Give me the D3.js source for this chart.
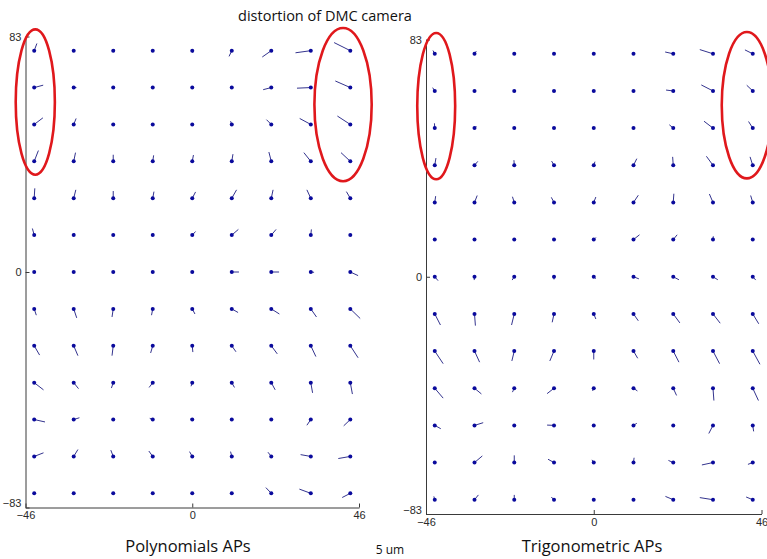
<!DOCTYPE html>
<html>
<head>
<meta charset="utf-8">
<script src="https://cdn.jsdelivr.net/npm/d3@7/dist/d3.min.js"></script>
<style>
  html, body { margin: 0; padding: 0; background: #fff; }
  svg { display: block; }
</style>
</head>
<body>
<svg id="chart" width="767" height="559"></svg>
<script>
// Image-space grid of control points (mm) and tick labels
const gridX = [-43.6, -32.7, -21.8, -10.9, 0, 10.9, 21.8, 32.7, 43.6];
const gridY = [78, 65, 52, 39, 26, 13, 0, -13, -26, -39, -52, -65, -78];
const xTicks = [-46, 0, 46];
const yTicks = [83, 0, -83];

// Residual distortion vectors (um), one row per gridY value, one column per gridX value.
// U: positive to the right, V: positive upward.
const polyU = [
  [ 0.9,  0.2,  0.6,  0.0,  0.2, -0.9, -3.0, -5.1, -5.4],
  [ 3.0,  0.9,  0.0,  0.0,  0.0,  0.0, -2.7, -4.6, -5.0],
  [ 2.9,  0.8,  0.0,  0.0,  0.0, -0.4, -1.6, -3.7, -4.3],
  [ 1.4,  0.6,  0.0,  0.3,  0.4,  0.4, -0.8, -2.3, -3.1],
  [ 0.2,  0.7,  0.0,  0.4,  1.1,  1.6,  0.6, -1.3, -1.3],
  [-0.6,  0.2,  0.0,  0.2,  1.1,  2.2,  1.6,  0.2,  0.0],
  [ 0.0,  0.0,  0.0,  0.0,  0.6,  2.4,  2.6,  1.1,  2.6],
  [ 0.7,  1.0, -0.4, -0.4,  0.9,  2.1,  2.7,  1.9,  3.3],
  [ 1.8,  1.4, -0.4, -0.7,  0.2,  1.4,  2.0,  1.7,  2.6],
  [ 3.1,  1.6, -0.6, -1.2, -0.4,  0.9,  1.3,  0.6,  0.7],
  [ 3.6,  1.9,  0.0, -1.0, -0.6,  0.0,  0.0, -1.3, -2.2],
  [ 3.1,  1.4, -0.8, -1.3, -0.9, -0.4, -1.1, -3.4, -4.0],
  [ 0.0,  0.0,  0.0,  0.0,  0.0,  0.0, -1.8, -3.8, -2.7]
];
const polyV = [
  [ 2.4,  0.3,  0.3,  0.0, -0.7, -1.9, -2.1, -0.7,  2.7],
  [ 0.8,  0.0,  0.0,  0.0,  0.0,  0.0, -0.7, -0.2,  2.2],
  [ 2.2,  2.0,  0.0,  0.0,  0.0,  1.1,  1.6,  2.0,  2.8],
  [ 3.6,  2.9,  2.2,  2.0,  2.1,  2.4,  3.1,  2.9,  2.9],
  [ 3.3,  2.8,  2.4,  2.2,  2.1,  2.8,  2.8,  2.8,  2.2],
  [ 2.2,  0.7,  0.0,  0.6,  1.2,  1.9,  1.9,  1.9,  0.0],
  [ 0.0,  0.0,  0.0,  0.0,  0.1,  0.0,  0.0, -0.1, -1.2],
  [-2.1, -3.0, -2.7, -2.1, -1.7, -1.2, -1.7, -2.7, -3.2],
  [-3.1, -3.3, -3.3, -2.4, -2.1, -2.0, -2.7, -3.6, -4.0],
  [-2.4, -2.0, -1.8, -1.6, -1.2, -1.6, -2.4, -3.4, -3.8],
  [-0.8,  0.6,  0.0,  0.4,  0.2,  0.0,  0.0, -1.9, -2.1],
  [ 1.2,  2.3,  2.1,  1.8,  1.6,  1.6,  1.4,  0.6, -0.7],
  [ 0.0,  0.0,  0.0,  0.0,  0.0,  0.0,  1.9,  1.4, -1.4]
];
const trigU = [
  [-0.6,  0.6,  0.0,  0.0,  0.0,  0.0, -2.7, -4.4, -2.6],
  [-0.7, -0.3,  0.0,  0.0,  0.0,  0.0, -2.4, -3.9, -2.0],
  [-0.1,  0.6,  0.0,  0.0,  0.0,  0.0, -1.3, -3.0, -1.4],
  [ 0.4,  1.1, -0.1, -0.8,  0.4,  1.1, -0.2, -2.2, -0.9],
  [ 0.3,  0.9, -0.6, -0.9,  0.7,  1.6,  0.2, -1.2, -0.7],
  [ 0.0,  0.0,  0.0,  0.0,  0.7,  2.0,  1.3,  0.1,  0.0],
  [ 1.1, -0.1, -0.7,  0.0,  0.7,  1.8,  1.9,  1.6,  1.0],
  [ 1.9,  0.3, -0.9, -0.6,  0.7,  1.6,  2.2,  2.4,  2.0],
  [ 2.8,  1.7, -0.8, -1.4,  0.0,  1.4,  1.9,  2.2,  2.4],
  [ 2.8,  2.3, -0.6, -2.3, -0.4,  1.3,  1.1,  0.3,  1.9],
  [ 2.0,  2.9,  0.0, -2.3,  0.0,  1.1,  0.0, -1.4,  0.3],
  [ 0.0,  2.6,  0.0, -2.0, -0.6,  0.2, -1.6, -3.7, -1.6],
  [-0.3,  1.3,  0.0, -0.9,  0.0,  0.0, -2.6, -4.4, -2.2]
];
const trigV = [
  [ 1.1,  0.9,  0.0,  0.0,  0.0,  0.0,  0.6,  1.4,  1.3],
  [ 1.1,  0.0,  0.0,  0.0,  0.0,  0.0,  0.3,  2.0,  1.9],
  [ 1.6,  0.6,  0.0,  0.0,  0.0,  0.0,  1.1,  2.3,  2.2],
  [ 2.4,  1.3,  1.7,  1.4,  1.2,  2.2,  2.8,  3.0,  2.8],
  [ 2.1,  2.3,  1.9,  1.7,  1.8,  2.4,  2.9,  2.8,  2.3],
  [ 0.0,  0.0,  0.0,  0.0,  0.7,  1.6,  1.6,  1.1,  0.0],
  [-1.3, -1.1, -1.1, -0.9, -0.6, -0.7, -1.0, -1.0, -1.1],
  [-3.7, -3.9, -3.7, -2.8, -1.7, -2.3, -3.0, -3.1, -3.3],
  [-4.2, -3.7, -3.3, -3.3, -2.8, -2.4, -3.7, -4.2, -4.4],
  [-3.3, -1.9, -1.3, -1.8, -0.9, -0.9, -2.4, -4.1, -4.1],
  [-1.1,  0.9,  0.0,  0.1,  0.0,  0.7,  0.0, -2.7, -2.0],
  [ 0.0,  2.2,  2.4,  1.1,  0.9,  1.6,  0.7, -0.8, -0.6],
  [ 1.1,  1.6,  1.6,  0.9,  0.0,  0.0,  1.1,  0.7,  0.9]
];

// Highlighted corner zones (plot units: centre x, centre y, radius x, radius y)
const polyHighlights = [[-43.3, 59.9, 5.4, 25.6], [41.6, 59.0, 7.9, 27.0]];
const trigHighlights = [[-43.2, 59.7, 5.2, 25.6], [42.0, 60.0, 6.9, 25.6]];

const panelTitles = ["Polynomials APs", "Trigonometric APs"];
const chartTitle = "distortion of DMC camera";
const scaleLabel = "5 um";

const svg = d3.select("#chart");
const pxPerUm = 3;              // vector magnification on screen
const dotColor = "#0a0a9c";
const stemColor = "#34348e";
const textFont = "'Open Sans', sans-serif";

const panels = [
  { x0: 25.5, x1: 359, y0: 507.5, y1: 36.5, U: polyU, V: polyV, hl: polyHighlights, title: panelTitles[0], tx: 188 },
  { x0: 426,  x1: 761.5, y0: 514, y1: 39.5, U: trigU, V: trigV, hl: trigHighlights, title: panelTitles[1], tx: 592 }
];

panels.forEach(p => {
  const x = d3.scaleLinear().domain([-46, 46]).range([p.x0, p.x1]);
  const y = d3.scaleLinear().domain([-83, 83]).range([p.y0, p.y1]);
  const g = svg.append("g");

  const yAxis = d3.axisLeft(y).tickValues(yTicks).tickFormat(d3.format("d"))
    .tickSizeInner(-4).tickSizeOuter(0).tickPadding(4);
  const xAxis = d3.axisBottom(x).tickValues(xTicks).tickFormat(d3.format("d"))
    .tickSizeInner(-4).tickSizeOuter(0).tickPadding(4);

  const ya = g.append("g").attr("transform", `translate(${p.x0},0)`).call(yAxis);
  const xa = g.append("g").attr("transform", `translate(0,${p.y0})`).call(xAxis);
  [ya, xa].forEach(a => {
    a.selectAll("path, line").attr("stroke", "#3a3a3a").attr("stroke-width", 1);
    a.selectAll("text").attr("fill", "#2a2a2a")
      .style("font-family", "'Liberation Sans', Arial, sans-serif").style("font-size", "11px");
  });
  // lift the bottom y label clear of the x label beneath it
  ya.selectAll(".tick text").filter(d => d === -83).attr("dy", "-0.05em");

  // vectors: stem from grid point, dot on the grid point
  const pts = [];
  gridY.forEach((gy, r) => gridX.forEach((gx, c) => {
    pts.push({ gx, gy, u: p.U[r][c], v: p.V[r][c] });
  }));
  const vg = g.append("g");
  vg.selectAll("line.stem").data(pts).join("line")
    .attr("class", "stem")
    .attr("x1", d => x(d.gx)).attr("y1", d => y(d.gy))
    .attr("x2", d => x(d.gx) + d.u * pxPerUm)
    .attr("y2", d => y(d.gy) - d.v * pxPerUm)
    .attr("stroke", stemColor).attr("stroke-width", 1);
  vg.selectAll("circle").data(pts).join("circle")
    .attr("cx", d => x(d.gx)).attr("cy", d => y(d.gy)).attr("r", 2)
    .attr("fill", dotColor);

  // highlighted zones
  g.selectAll("ellipse").data(p.hl).join("ellipse")
    .attr("cx", d => x(d[0])).attr("cy", d => y(d[1]))
    .attr("rx", d => Math.abs(x(d[2]) - x(0))).attr("ry", d => Math.abs(y(d[3]) - y(0)))
    .attr("fill", "none").attr("stroke", "#e0181c").attr("stroke-width", 2.6);

  svg.append("text").attr("x", p.tx).attr("y", 552).attr("text-anchor", "middle")
    .style("font-family", textFont).style("font-size", "16.5px")
    .attr("fill", "#111").text(p.title);
});

svg.append("text").attr("x", 325).attr("y", 21).attr("text-anchor", "middle")
  .style("font-family", textFont).style("font-size", "14.5px")
  .attr("fill", "#111").text(chartTitle);

svg.append("text").attr("x", 390).attr("y", 554).attr("text-anchor", "middle")
  .style("font-family", textFont).style("font-size", "12px")
  .attr("fill", "#111").text(scaleLabel);
</script>
</body>
</html>
